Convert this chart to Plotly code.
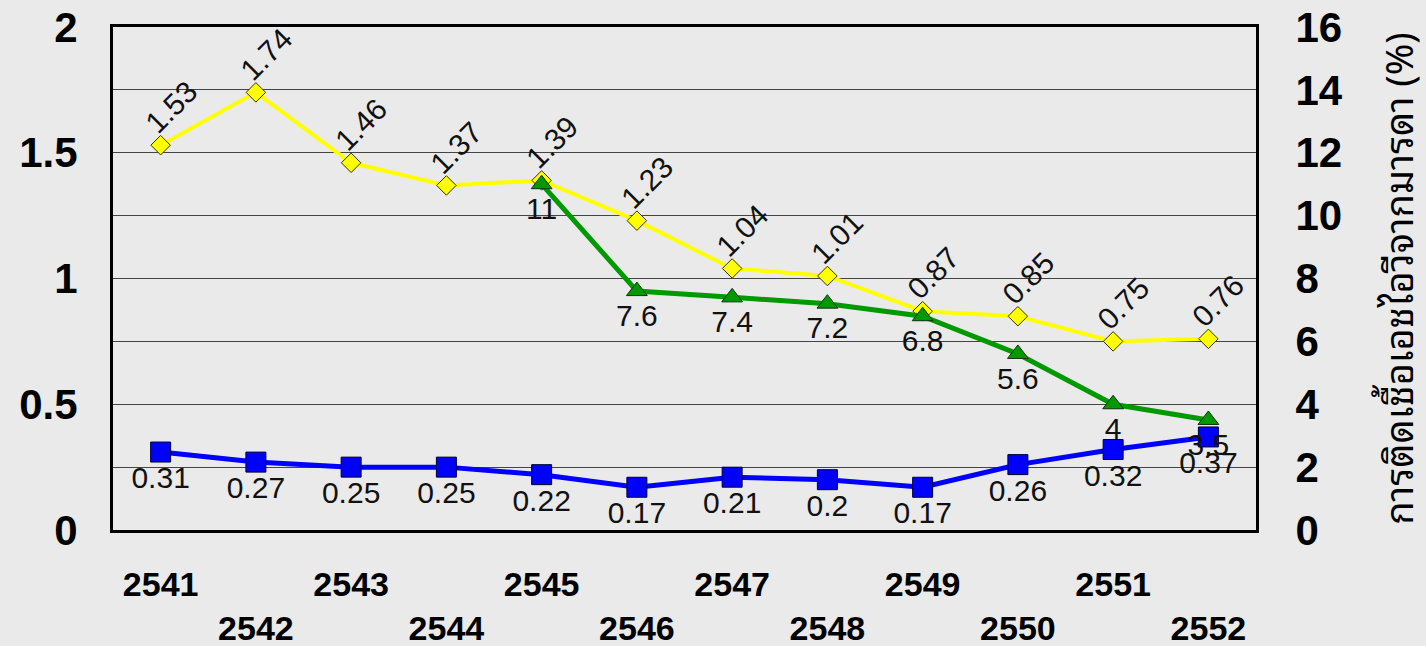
import plotly.graph_objects as go

years = ["2541", "2542", "2543", "2544", "2545", "2546", "2547", "2548", "2549", "2550", "2551", "2552"]
yellow_vals = [1.53, 1.74, 1.46, 1.37, 1.39, 1.23, 1.04, 1.01, 0.87, 0.85, 0.75, 0.76]
blue_vals = [0.31, 0.27, 0.25, 0.25, 0.22, 0.17, 0.21, 0.2, 0.17, 0.26, 0.32, 0.37]
green_vals = [None, None, None, None, 11, 7.6, 7.4, 7.2, 6.8, 5.6, 4, 3.5]
right_title = "การติดเชื้อเอชไอวีจากมารดา (%)"

tick_text = [y if i % 2 == 0 else "<br>" + y for i, y in enumerate(years)]
FONT = "Arial, Liberation Sans, sans-serif"

def fmt(v):
    return ("%g" % v)

fig = go.Figure()

fig.add_trace(go.Scatter(
    x=years, y=green_vals, yaxis="y2", mode="lines+markers+text",
    line=dict(color="#009900", width=5),
    marker=dict(symbol="triangle-up", size=18, color="#009900", line=dict(color="#103010", width=1)),
    text=[fmt(v) if v is not None else "" for v in green_vals],
    textposition="bottom center",
    textfont=dict(family=FONT, size=30, color="#111111"),
    connectgaps=False, showlegend=False, cliponaxis=False,
))

fig.add_trace(go.Scatter(
    x=years, y=yellow_vals, mode="lines+markers",
    line=dict(color="#FFFF00", width=4),
    marker=dict(symbol="diamond", size=15, color="#FFFF00", line=dict(color="#333300", width=1)),
    showlegend=False, cliponaxis=False,
))

fig.add_trace(go.Scatter(
    x=years, y=blue_vals, mode="lines+markers+text",
    line=dict(color="#0000FF", width=5),
    marker=dict(symbol="square", size=20, color="#0000FF", line=dict(color="#000033", width=1)),
    text=[fmt(v) for v in blue_vals],
    textposition="bottom center",
    textfont=dict(family=FONT, size=30, color="#111111"),
    showlegend=False, cliponaxis=False,
))

annotations = []
for i, v in enumerate(yellow_vals):
    annotations.append(dict(
        x=i, y=v, xref="x", yref="y", text=fmt(v), showarrow=False,
        textangle=-45, xshift=10, yshift=38,
        font=dict(family=FONT, size=30, color="#111111"),
    ))

fig.update_layout(
    width=1426, height=646,
    margin=dict(l=113, r=170, t=27, b=116),
    paper_bgcolor="#EAEAEA", plot_bgcolor="#EAEAEA",
    annotations=annotations,
    xaxis=dict(
        type="category", range=[-0.5, 11.5], automargin=False,
        tickvals=years, ticktext=tick_text,
        tickfont=dict(family=FONT, size=34, color="black", weight="bold"),
        showgrid=False, showline=True, linecolor="black", linewidth=3, mirror=True,
        ticks="", ticklabelstandoff=22,
    ),
    yaxis=dict(
        range=[0, 2], automargin=False, tickvals=[0, 0.5, 1, 1.5, 2], ticktext=["0", "0.5", "1", "1.5", "2"],
        tickfont=dict(family=FONT, size=42, color="black", weight="bold"),
        showgrid=False, showline=True, linecolor="black", linewidth=3, mirror=False,
        zeroline=False, ticks="", ticklabelstandoff=24,
    ),
    yaxis2=dict(
        range=[0, 16], dtick=2, overlaying="y", side="right", automargin=False,
        tickfont=dict(family=FONT, size=42, color="black", weight="bold"),
        showgrid=True, gridcolor="#444444", gridwidth=1,
        showline=True, linecolor="black", linewidth=3,
        zeroline=False, ticks="", ticklabelstandoff=28,
        title=dict(text=right_title, font=dict(family="Noto Sans Thai Looped, Tahoma, Noto Sans Thai, DejaVu Sans, sans-serif", size=38, color="black"), standoff=52),
    ),
)

fig.write_html("out.html", config={"displayModeBar": False},
               post_script="document.body.style.margin='0';document.body.style.background='#EAEAEA';")
